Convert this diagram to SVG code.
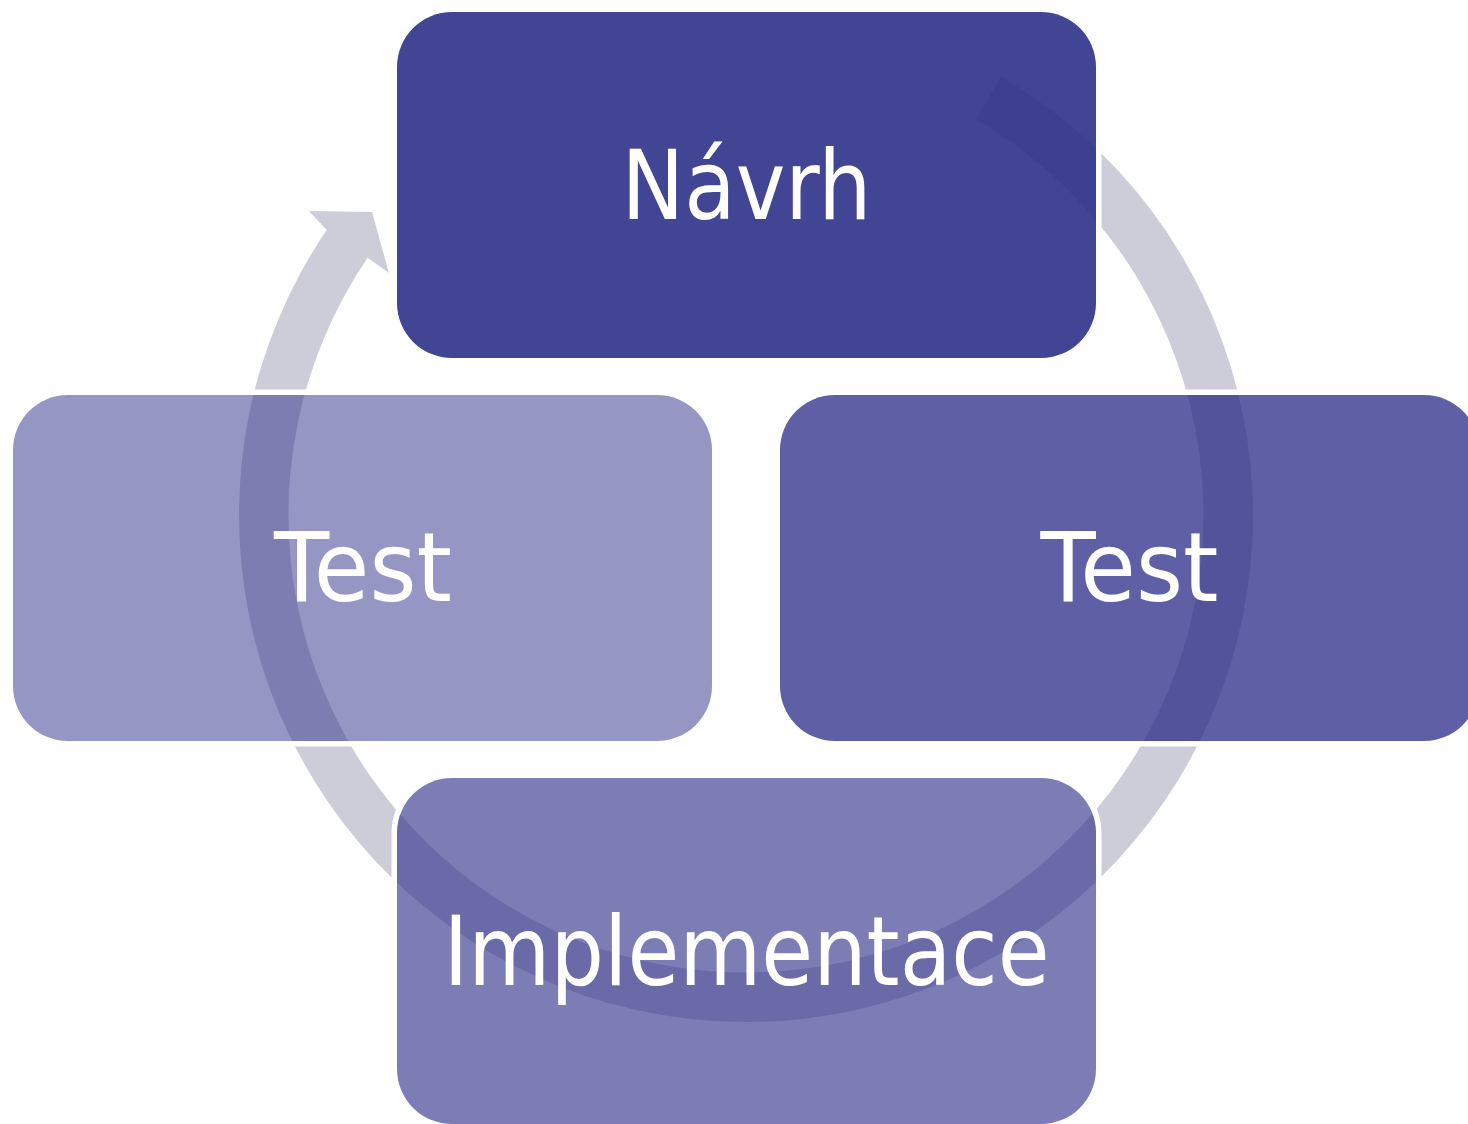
<svg xmlns="http://www.w3.org/2000/svg" width="1468" height="1124" viewBox="0 0 1468 1124">
  <style>
    .halo { fill: none; stroke: #ffffff; stroke-width: 5.5; }
    .box { fill: #2B2D87; }
    .lbl { fill: #ffffff; font-family: "DejaVu Sans", Tahoma, Verdana, sans-serif; font-size: 96px; text-anchor: middle; }
  </style>
  <rect width="1468" height="1124" fill="#ffffff"/>
  <g id="connectors">
    <path id="cycle-arrow" fill="#CDCDDA" d="M 1001 76.8 A 507 507 0 1 1 326.7 230 L 309 211 L 372 212 L 389 273 L 367.6 257.8 A 457.5 457.5 0 1 0 976.1 119.6 Z"/>
  </g>
  <g id="halos">
    <rect class="halo" x="394.25" y="9.25" width="704.5" height="351.5" rx="57.75"/>
    <rect class="halo" x="10.25" y="392.25" width="704.5" height="351.5" rx="57.75"/>
    <rect class="halo" x="777.25" y="392.25" width="704.5" height="351.5" rx="57.75"/>
    <rect class="halo" x="394.25" y="775.25" width="704.5" height="351.5" rx="57.75"/>
  </g>
  <g id="node-navrh">
    <rect class="box" x="397" y="12" width="699" height="346" rx="55" fill-opacity="0.89"/>
    <text class="lbl" x="746.5" y="219" textLength="250" lengthAdjust="spacingAndGlyphs">Návrh</text>
  </g>
  <g id="node-test-right">
    <rect class="box" x="780" y="395" width="699" height="346" rx="55" fill-opacity="0.76"/>
    <text class="lbl" x="1129.5" y="601" textLength="178" lengthAdjust="spacingAndGlyphs">Test</text>
  </g>
  <g id="node-implementace">
    <rect class="box" x="397" y="778" width="699" height="346" rx="55" fill-opacity="0.62"/>
    <text class="lbl" x="746.5" y="985" textLength="606" lengthAdjust="spacingAndGlyphs">Implementace</text>
  </g>
  <g id="node-test-left">
    <rect class="box" x="13" y="395" width="699" height="346" rx="55" fill-opacity="0.5"/>
    <text class="lbl" x="363" y="601" textLength="178" lengthAdjust="spacingAndGlyphs">Test</text>
  </g>
</svg>
